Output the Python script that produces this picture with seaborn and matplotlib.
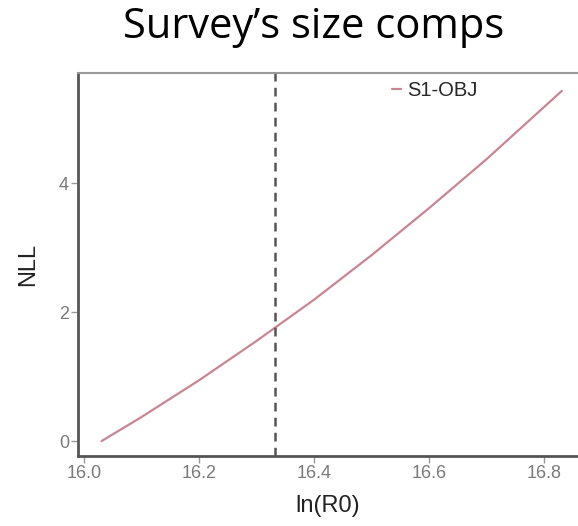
import matplotlib
matplotlib.use("Agg")
import matplotlib.pyplot as plt
import seaborn as sns
import pandas as pd

ln_r0 = [16.031, 16.1, 16.2, 16.3, 16.4, 16.5, 16.6, 16.7, 16.831]
nll = [0.0, 0.37, 0.94, 1.55, 2.19, 2.88, 3.61, 4.37, 5.43]
series = ["S1-OBJ"] * len(ln_r0)
mle_x = 16.332
xticks = [16.0, 16.2, 16.4, 16.6, 16.8]
yticks = [0, 2, 4]

sns.set_style("white")
plt.rcParams['font.family'] = ['Liberation Sans', 'DejaVu Sans']

df = pd.DataFrame({"ln(R0)": ln_r0, "NLL": nll, "series": series})

fig = plt.figure(figsize=(5.78, 5.26), dpi=100)
ax = fig.add_axes([0.135, 0.133, 0.865, 0.728])
sns.lineplot(data=df, x="ln(R0)", y="NLL", hue="series", palette=["#c98593"],
             linewidth=1.6, ax=ax)
ax.axvline(mle_x, color="#555555", linestyle=(0, (3.5, 2.5)), linewidth=1.8)

ax.set_xlim(15.99, 16.859)
ax.set_ylim(-0.233, 5.705)
ax.set_xticks(xticks)
ax.set_xticklabels([f"{v:.1f}" for v in xticks])
ax.set_yticks(yticks)
ax.tick_params(axis="both", direction="out", length=5, width=1, color="#999999",
               labelcolor="#7a7a7a", labelsize=13, pad=1.5, bottom=True, left=True)
ax.set_xlabel("ln(R0)", fontsize=17, color="#222222", labelpad=9)
ax.set_ylabel("NLL", fontsize=17, color="#222222", labelpad=14)

for s in ["left", "bottom"]:
    ax.spines[s].set_color("#555555")
    ax.spines[s].set_linewidth(2)
ax.spines["top"].set_color("#999999")
ax.spines["top"].set_linewidth(1.5)
ax.spines["right"].set_visible(False)

leg = ax.legend(loc="upper left", bbox_to_anchor=(0.608, 1.005), frameon=False,
                fontsize=14.5, handlelength=0.45, handletextpad=0.3, borderaxespad=0.1)

fig.text(0.543, 0.928, "Survey\u2019s size comps", ha="center", va="baseline",
         fontsize=30, family=["Open Sans", "DejaVu Sans"], color="black")

fig.savefig("out.png", dpi=100)
